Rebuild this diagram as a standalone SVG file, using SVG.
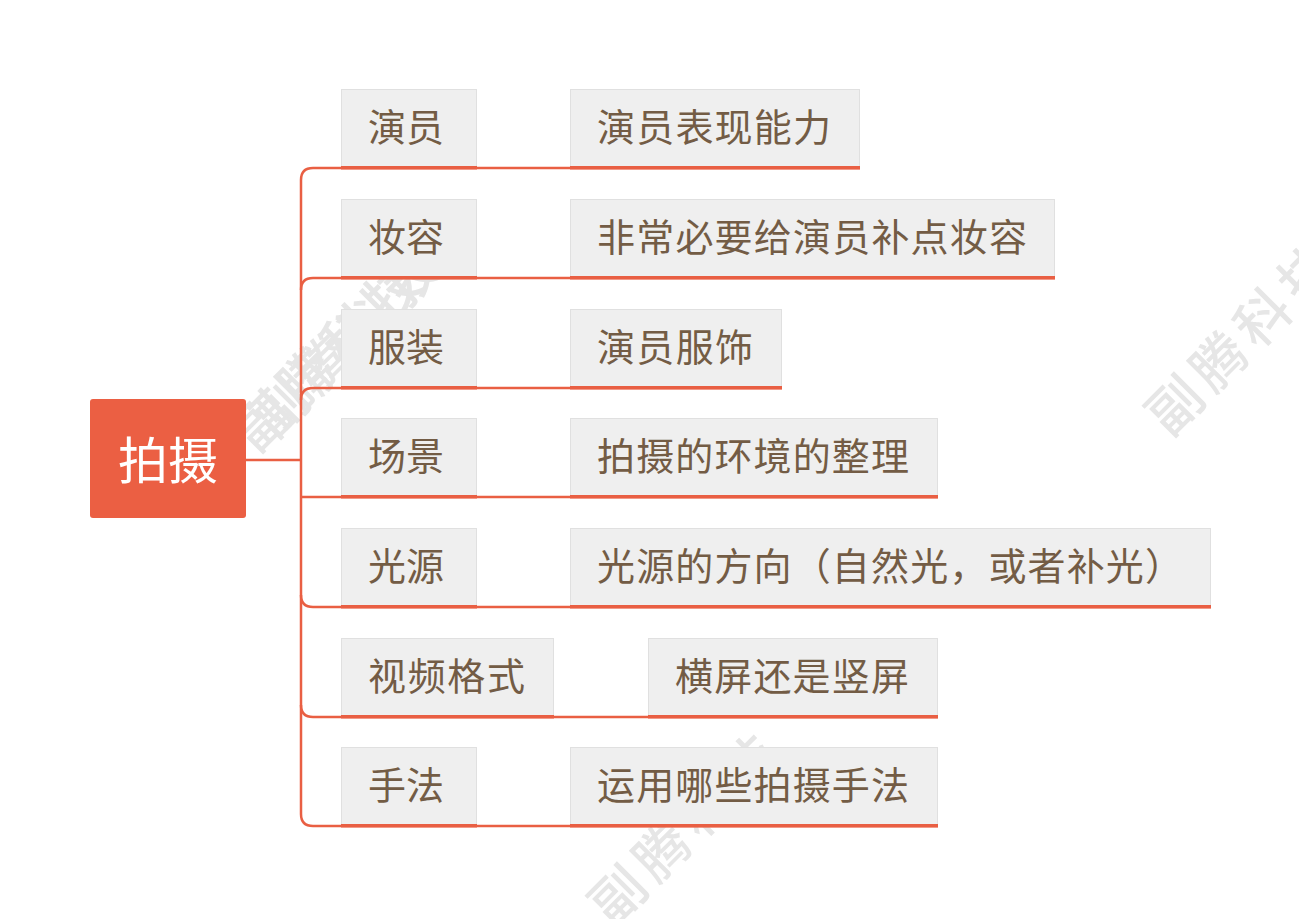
<svg xmlns="http://www.w3.org/2000/svg" width="1299" height="919" viewBox="0 0 1299 919">
<style>
.wm{font-family:"Noto Sans CJK SC","Noto Sans",sans-serif;font-size:54px;font-weight:500;fill:#E6E6E6;letter-spacing:8px;text-anchor:middle;dominant-baseline:central}
.box{fill:#EFEFEF;stroke:#E0E0E0;stroke-width:1}
.ul{fill:#E95F43}
.t{font-family:"Noto Sans CJK SC","Noto Sans",sans-serif;font-size:38px;fill:#735C45}
.conn{fill:none;stroke:#E95F43;stroke-width:2.5}
.root-t{font-family:"Noto Sans CJK SC","Noto Sans",sans-serif;font-size:50px;fill:#FFFFFF;text-anchor:middle}
</style>
<rect width="1299" height="919" fill="#FFFFFF"/>
<g id="watermarks">
<text class="wm" transform="translate(328,350) rotate(-45)">副腾科技</text>
<text class="wm" transform="translate(346,336) rotate(-45)">副腾科技</text>
<text class="wm" transform="translate(1241,334) rotate(-45)">副腾科技</text>
<text class="wm" transform="translate(684,824) rotate(-45)">副腾科技</text>
</g>
<g id="connectors">
<path class="conn" d="M246,460 H301"/>
<path class="conn" d="M301,180 V814"/>
<path class="conn" d="M301,180 Q301,168 313,168 H860"/>
<path class="conn" d="M301,290 Q301,278 313,278 H1055"/>
<path class="conn" d="M301,400 Q301,388 313,388 H782"/>
<path class="conn" d="M301,497 H938"/>
<path class="conn" d="M301,595 Q301,607 313,607 H1211"/>
<path class="conn" d="M301,705 Q301,717 313,717 H938"/>
<path class="conn" d="M301,814 Q301,826 313,826 H938"/>
</g>
<g id="root">
<rect x="90" y="399" width="156" height="119" rx="3" fill="#EB5F43"/>
<text class="root-t" x="168" y="479">拍摄</text>
</g>
<g id="n1">
<rect class="box" x="341.5" y="89.5" width="135" height="79"/>
<rect class="ul" x="341" y="166" width="136" height="3.5"/>
<text class="t" x="368" y="141">演员</text>
</g>
<g id="n1c">
<rect class="box" x="570.5" y="89.5" width="289" height="79"/>
<rect class="ul" x="570" y="166" width="290" height="3.5"/>
<text class="t" x="597" y="141" textLength="234" lengthAdjust="spacing">演员表现能力</text>
</g>
<g id="n2">
<rect class="box" x="341.5" y="199.5" width="135" height="79"/>
<rect class="ul" x="341" y="276" width="136" height="3.5"/>
<text class="t" x="368" y="251">妆容</text>
</g>
<g id="n2c">
<rect class="box" x="570.5" y="199.5" width="484" height="79"/>
<rect class="ul" x="570" y="276" width="485" height="3.5"/>
<text class="t" x="597" y="251" textLength="430" lengthAdjust="spacing">非常必要给演员补点妆容</text>
</g>
<g id="n3">
<rect class="box" x="341.5" y="309.5" width="135" height="79"/>
<rect class="ul" x="341" y="386" width="136" height="3.5"/>
<text class="t" x="368" y="361">服装</text>
</g>
<g id="n3c">
<rect class="box" x="570.5" y="309.5" width="211" height="79"/>
<rect class="ul" x="570" y="386" width="212" height="3.5"/>
<text class="t" x="597" y="361" textLength="156" lengthAdjust="spacing">演员服饰</text>
</g>
<g id="n4">
<rect class="box" x="341.5" y="418.5" width="135" height="79"/>
<rect class="ul" x="341" y="495" width="136" height="3.5"/>
<text class="t" x="368" y="470">场景</text>
</g>
<g id="n4c">
<rect class="box" x="570.5" y="418.5" width="367" height="79"/>
<rect class="ul" x="570" y="495" width="368" height="3.5"/>
<text class="t" x="597" y="470" textLength="312" lengthAdjust="spacing">拍摄的环境的整理</text>
</g>
<g id="n5">
<rect class="box" x="341.5" y="528.5" width="135" height="79"/>
<rect class="ul" x="341" y="605" width="136" height="3.5"/>
<text class="t" x="368" y="580">光源</text>
</g>
<g id="n5c">
<rect class="box" x="570.5" y="528.5" width="640" height="79"/>
<rect class="ul" x="570" y="605" width="641" height="3.5"/>
<text class="t" x="597" y="580" textLength="586" lengthAdjust="spacing">光源的方向（自然光，或者补光）</text>
</g>
<g id="n6">
<rect class="box" x="341.5" y="638.5" width="212" height="79"/>
<rect class="ul" x="341" y="715" width="213" height="3.5"/>
<text class="t" x="368" y="690" textLength="157" lengthAdjust="spacing">视频格式</text>
</g>
<g id="n6c">
<rect class="box" x="648.5" y="638.5" width="289" height="79"/>
<rect class="ul" x="648" y="715" width="290" height="3.5"/>
<text class="t" x="675" y="690" textLength="234" lengthAdjust="spacing">横屏还是竖屏</text>
</g>
<g id="n7">
<rect class="box" x="341.5" y="747.5" width="135" height="79"/>
<rect class="ul" x="341" y="824" width="136" height="3.5"/>
<text class="t" x="368" y="799">手法</text>
</g>
<g id="n7c">
<rect class="box" x="570.5" y="747.5" width="367" height="79"/>
<rect class="ul" x="570" y="824" width="368" height="3.5"/>
<text class="t" x="597" y="799" textLength="312" lengthAdjust="spacing">运用哪些拍摄手法</text>
</g>
</svg>
